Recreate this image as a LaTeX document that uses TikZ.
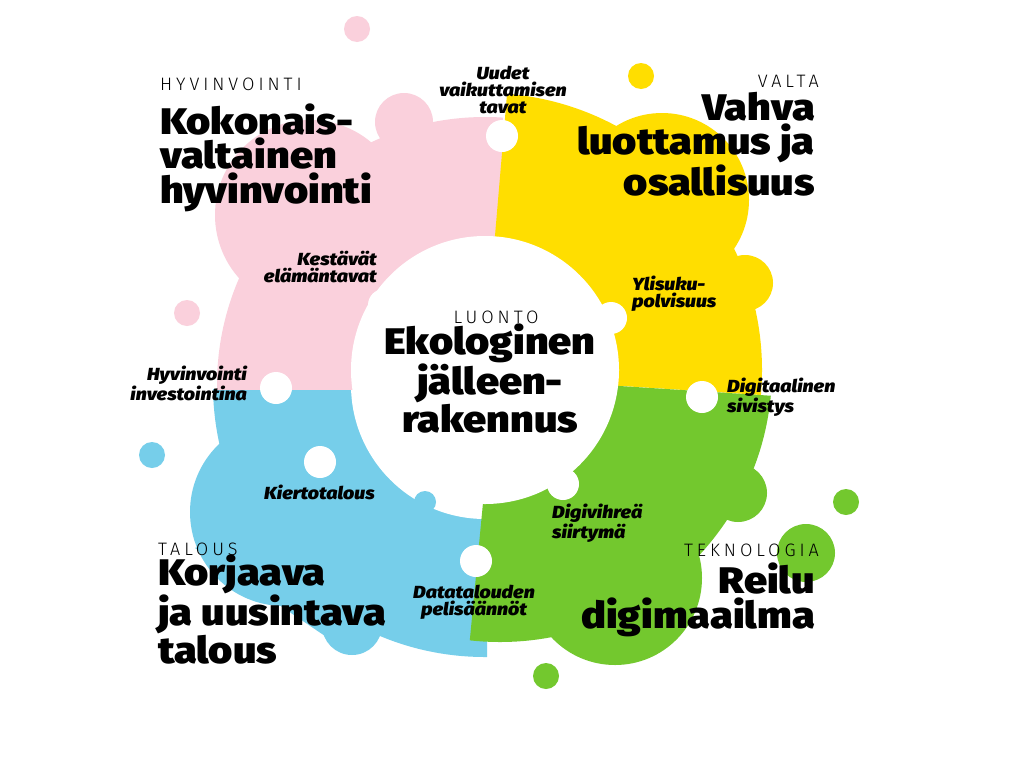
\documentclass[tikz,border=0pt]{standalone}
\usepackage{fontspec}
\newfontfamily\headfont{Fira Sans Black}[FakeStretch=1.12]
\newfontfamily\labelfont{Fira Sans Black Italic}[FakeStretch=1.12]
\newfontfamily\capfont{Fira Sans Light}[LetterSpace=22]
\definecolor{cpink}{HTML}{FAD0DC}
\definecolor{cyellow}{HTML}{FFDE00}
\definecolor{cgreen}{HTML}{73C82E}
\definecolor{cblue}{HTML}{76CEEA}
\tikzset{
  capt/.style={font=\capfont\fontsize{18}{18}\selectfont, inner sep=0pt},
  head/.style={font=\headfont\fontsize{37}{34.5}\selectfont, inner sep=0pt},
  lbl/.style={font=\labelfont\fontsize{17.5}{17}\selectfont, inner sep=0pt},
  hole/.style={fill=white},
}
\begin{document}
\begin{tikzpicture}[x=1pt,y=-1pt]
\path[use as bounding box] (0,0) rectangle (1024,763);
\fill[white] (0,0) rectangle (1024,763);

% blue petal
\begin{scope}
  \clip (0,389) rectangle (487,763);
  \fill[cblue] (485,385) circle[radius=272];
  \fill[cblue] (284,512) circle[radius=94];
  \fill[cblue] (352,625) circle[radius=30];
  \fill[cblue] (284,512) -- (195,548) -- (325,636) -- (352,625) -- cycle;
  \fill[white] (485,385) circle[radius=134];
\end{scope}

% pink petal
\begin{scope}
  \clip (0,0) rectangle (503,389);
  \fill[cpink] (485,385) circle[radius=268];
  \fill[cpink] (310,215) circle[radius=95];
  \fill[cpink] (404,122) circle[radius=29];
\end{scope}

% yellow petal
\begin{scope}
  \clip (515,0) -- (1024,0) -- (1024,412) -- (483,377) -- cycle;
  \fill[cyellow] (485,370) circle[radius=277];
  \fill[cyellow] (662,200) circle[radius=87];
  \fill[cyellow] (745,283) circle[radius=28];
\end{scope}

% green petal
\begin{scope}
  \clip (495,378) -- (1024,412) -- (1024,763) -- (458,763) -- cycle;
  \fill[cgreen] (500,370) circle[radius=272];
  \fill[cgreen] (738,493) circle[radius=29];
  \fill[cgreen] (615,578) circle[radius=87];
\end{scope}

% centre
\fill[white] (485,370) circle[radius=134];
\fill[cblue] (425,502) circle[radius=11];

% white connector dots
\foreach \p in {(502,136),(384,305),(611,318),(276,388),(320,462),(702,397),(563,484),(476,561)}
  \fill[hole] \p circle[radius=16];

% decorative dots
\fill[cpink] (357,29) circle[radius=13];
\fill[cpink] (187,313) circle[radius=13];
\fill[cyellow] (641,76) circle[radius=13];
\fill[cblue] (152,455) circle[radius=13];
\fill[cgreen] (846,502) circle[radius=13];
\fill[cgreen] (806,553) circle[radius=29];
\fill[cgreen] (546,676) circle[radius=13];

% headings (base anchor = baseline of last line)
\node[capt, anchor=base west] (hyvcap) at (160,90) {HYVINVOINTI};
\node[head, align=left, anchor=base west] (hyvhead) at (160,203) {Kokonais-\\valtainen\\hyvinvointi};
\node[capt, anchor=base east] (valcap) at (819,87) {VALTA};
\node[head, align=right, anchor=base east] (valhead) at (815,195) {Vahva\\luottamus ja\\osallisuus};
\node[capt, anchor=base west] (talcap) at (158,555) {TALOUS};
\node[head, align=left, anchor=base west] (talhead) at (158,663) {Korjaava\\ja uusintava\\talous};
\node[capt, anchor=base east] (tekcap) at (819,556) {TEKNOLOGIA};
\node[head, align=right, anchor=base east] (tekhead) at (815,628) {Reilu\\digimaailma};
\node[capt, anchor=base] (luocap) at (496,323) {LUONTO};
\node[head, align=center, anchor=base] (luohead) at (490,432) {Ekologinen\\jälleen-\\rakennus};

% labels
\node[lbl, align=center, anchor=base] (l1) at (503,113) {Uudet\\vaikuttamisen\\tavat};
\node[lbl, align=right, anchor=base east] (l2) at (377,282) {Kestävät\\elämäntavat};
\node[lbl, align=left, anchor=base west] (l3) at (632,307) {Ylisuku-\\polvisuus};
\node[lbl, align=right, anchor=base east] (l4) at (247,400) {Hyvinvointi\\investointina};
\node[lbl, anchor=base west] (l5) at (264,499) {Kiertotalous};
\node[lbl, align=left, anchor=base west] (l6) at (727,412) {Digitaalinen\\sivistys};
\node[lbl, align=left, anchor=base west] (l7) at (552,538) {Digivihreä\\siirtymä};
\node[lbl, align=center, anchor=base] (l8) at (474,615) {Datatalouden\\pelisäännöt};
\end{tikzpicture}
\end{document}
